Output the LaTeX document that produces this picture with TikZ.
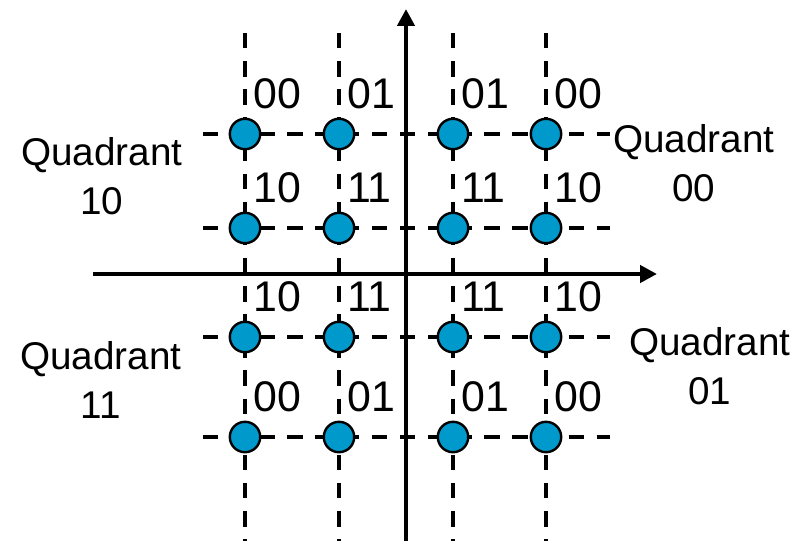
\documentclass[tikz,border=0pt]{standalone}
\usepackage{fontspec}
\setmainfont{Liberation Sans}
\usetikzlibrary{arrows.meta}
\definecolor{Dot}{HTML}{0099CC}
\tikzset{
    dot/.style={circle, fill=Dot, draw=black, line width=1.7pt, minimum size=0.76cm, inner sep=0pt},
    bit/.style={anchor=base west, inner sep=0pt, font=\fontsize{30.5}{36}\selectfont},
    quad/.style={align=center, inner sep=0pt, font=\fontsize{27.5}{34.8}\selectfont},
    gridline/.style={line width=3.5pt, dash pattern=on 11pt off 9pt},
    axis/.style={-{Triangle[length=12pt, width=12pt]}, line width=3.2pt},
}

\begin{document}
\begin{tikzpicture}[x=0.025cm, y=-0.025cm]
    \useasboundingbox (0,0) rectangle (805,541);
    % end points of the grid and the axes
    \foreach \x [count=\i] in {245,339,453,546} {\coordinate (vt\i) at (\x,33); \coordinate (vb\i) at (\x,541);}
    \foreach \y [count=\j] in {134,228,337,437} {\coordinate (hl\j) at (203,\y); \coordinate (hr\j) at (610,\y);}
    \coordinate (xl) at (93,274); \coordinate (xr) at (657,274);
    \coordinate (yb) at (406,541); \coordinate (yt) at (406,9);

    \foreach \i in {1,...,4} \draw[gridline] (vt\i) -- (vb\i);
    \foreach \j in {1,...,4} \draw[gridline] (hl\j) -- (hr\j);
    \draw[axis] (xl) -- (xr);
    \draw[axis] (yb) -- (yt);

    % constellation points and their bits
    \foreach \x/\cb [count=\i] in {245/0,339/1,453/1,546/0}
        \foreach \y/\rb [count=\j] in {134/0,228/1,337/1,437/0} {
            \node[dot] (p\i\j) at (\x,\y) {};
            \node[bit] (b\i\j) at (\x+8,\y-26) {\rb\cb};
        }

    \node[quad] (q10) at (102,176) {Quadrant\\10};
    \node[quad] (q00) at (694,163) {Quadrant\\00};
    \node[quad] (q11) at (101,380) {Quadrant\\11};
    \node[quad] (q01) at (710,366) {Quadrant\\01};
\end{tikzpicture}
\end{document}
